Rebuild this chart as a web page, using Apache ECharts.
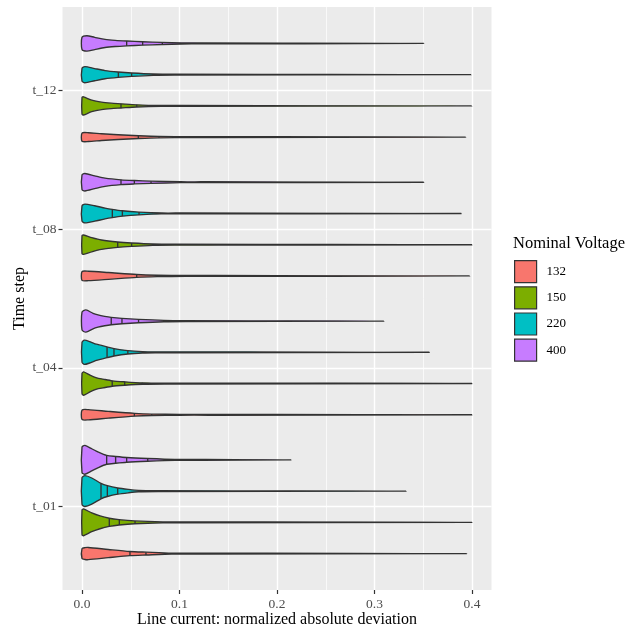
<!DOCTYPE html>
<html><head><meta charset="utf-8">
<script src="https://cdn.jsdelivr.net/npm/echarts@6/dist/echarts.min.js"></script>
<style>html,body{margin:0;padding:0;background:#fff}#c{width:640px;height:630px}</style>
</head><body><div id="c"></div>
<script>
// ---- data ----
const timeSteps = ['t_01', 't_04', 't_08', 't_12'];
const voltages = ['132', '150', '220', '400'];
const xTicks = [0, 0.1, 0.2, 0.3, 0.4];
const xMinorTicks = [0.05, 0.15, 0.25, 0.35];
const yTicks = [1, 2, 3, 4];

// maximum deviation per time step (t_01, t_04, t_08, t_12)
const max132 = [0.3945, 0.400, 0.3976, 0.3935];
const max150 = [0.400, 0.400, 0.400, 0.3997];
const max220 = [0.3324, 0.3563, 0.389, 0.399];
const max400 = [0.2144, 0.3096, 0.3505, 0.3505];

// quantile lines per time step
const quant132 = [[0.0492, 0.0656, 0.092], [0.0537, 0.0715, 0.0995], [0.0561, 0.0766, 0.1056], [0.0578, 0.079, 0.1108]];
const quant150 = [[0.028, 0.0383, 0.0544, 0.0834], [0.031, 0.0438, 0.0619], [0.0366, 0.0509, 0.0725], [0.04, 0.0561, 0.0807]];
const quant220 = [[0.0195, 0.026, 0.0366], [0.0257, 0.0328, 0.047], [0.0311, 0.0414, 0.0585], [0.0373, 0.0509, 0.0732]];
const quant400 = [[0.0253, 0.0345, 0.0458, 0.0674], [0.030, 0.041, 0.058, 0.084], [0.04, 0.0537, 0.0708, 0.1015], [0.0458, 0.0622, 0.0824]];

// density profiles [value, density] per time step (density 15.6 = full violin half-width)
const dens132 = [
  [[0, 5.5], [0.003, 6.5], [0.0065, 6.7], [0.027, 4.7], [0.049, 2.7], [0.066, 2], [0.092, 1], [0.123, 0.5]],
  [[0, 5.3], [0.0065, 5.7], [0.027, 4], [0.054, 2], [0.0715, 1.3], [0.1, 0.9], [0.13, 0.5]],
  [[0, 5], [0.0065, 5.3], [0.027, 4], [0.056, 2], [0.077, 1.3], [0.106, 0.7], [0.136, 0.4]],
  [[0, 4.7], [0.0065, 5], [0.02, 4], [0.037, 3], [0.058, 2], [0.079, 1.3], [0.111, 0.7], [0.136, 0.4]]
];
const dens150 = [
  [[0, 13], [0.0015, 14], [0.01, 10], [0.0185, 7], [0.028, 4.7], [0.038, 3.3], [0.054, 2], [0.083, 1], [0.102, 0.6]],
  [[0, 10.7], [0.0017, 12.3], [0.0082, 9], [0.015, 6.3], [0.0216, 5], [0.031, 3.3], [0.0438, 2.3], [0.062, 1.3], [0.085, 0.8]],
  [[0, 9.5], [0.0015, 10.3], [0.01, 7.7], [0.02, 5.3], [0.0366, 3.3], [0.051, 2.3], [0.0725, 1.3], [0.095, 0.7]],
  [[0, 9], [0.0015, 9.7], [0.01, 6.3], [0.02, 4.3], [0.03, 3.3], [0.04, 2.7], [0.056, 1.7], [0.081, 1], [0.102, 0.6]]
];
const dens220 = [
  [[0, 14], [0.003, 16], [0.01, 13.7], [0.0195, 8.3], [0.026, 6], [0.0366, 3.7], [0.0475, 2.3], [0.058, 1.3], [0.078, 0.7]],
  [[0, 10.5], [0.0024, 12.7], [0.0079, 11.3], [0.0147, 8.7], [0.0257, 6], [0.0328, 4.3], [0.047, 2.3], [0.062, 1.3], [0.075, 1], [0.095, 0.7]],
  [[0, 8.3], [0.003, 10], [0.013, 8.3], [0.0236, 6], [0.031, 4.7], [0.0414, 3.3], [0.0585, 2], [0.082, 1], [0.102, 0.5]],
  [[0, 7], [0.003, 8.7], [0.013, 6.7], [0.0236, 4.7], [0.037, 3.3], [0.051, 2.3], [0.073, 1.3], [0.095, 0.8]]
];
const dens400 = [
  [[0, 13.3], [0.003, 15], [0.01, 11.7], [0.0168, 8.3], [0.0253, 5], [0.0345, 4], [0.0458, 3], [0.067, 2], [0.095, 1], [0.123, 0.5]],
  [[0, 9.5], [0.004, 11.7], [0.0113, 8.3], [0.0164, 6.7], [0.0233, 5.3], [0.030, 4.3], [0.041, 3.3], [0.058, 2.3], [0.084, 1.3], [0.106, 0.7]],
  [[0, 8], [0.003, 9.3], [0.013, 7], [0.0236, 4.7], [0.04, 3], [0.054, 2.3], [0.071, 1.7], [0.1015, 1], [0.123, 0.5]],
  [[0, 6.7], [0.005, 8.3], [0.013, 6.7], [0.0236, 4.7], [0.034, 3.7], [0.046, 3], [0.062, 2.3], [0.082, 1.7], [0.102, 1.2], [0.123, 0.6]]
];

const colors = ['#F8766D', '#7CAE00', '#00BFC4', '#C77CFF'];
const maxes = [max132, max150, max220, max400];
const quants = [quant132, quant150, quant220, quant400];
const denses = [dens132, dens150, dens220, dens400];

// ---- rendering ----
const DODGE = 0.225, HALF = 0.1125, DFULL = 15.6, PAD = 0.6, MIND = 0.45;
const STROKE = '#333333', LW = 1.35;
const FONT = '"Liberation Serif", "Times New Roman", serif';

function densAt(prof, v) {
  for (let i = 0; i < prof.length - 1; i++) {
    const a = prof[i], b = prof[i + 1];
    if (v >= a[0] && v <= b[0]) return a[1] + (b[1] - a[1]) * (v - a[0]) / (b[0] - a[0]);
  }
  return prof[prof.length - 1][1];
}

function makeRender(j) {
  return function (params, api) {
    const t = Math.round(api.value(1)) - 1;
    const yc = t + 1 + (j - 1.5) * DODGE;
    const prof = denses[j][t];
    const k = HALF / DFULL;
    const top = [], bot = [];
    prof.forEach(function (p) {
      const w = Math.max(p[1] - PAD, MIND) * k;
      top.push(api.coord([p[0], yc + w]));
      bot.push(api.coord([p[0], yc - w]));
    });
    const end = api.coord([maxes[j][t], yc]);
    const pts = top.concat([end], bot.reverse());
    const children = [{
      type: 'polygon',
      shape: { points: pts, smooth: 0.25 },
      style: { fill: colors[j], stroke: STROKE, lineWidth: LW, lineJoin: 'round' }
    }];
    quants[j][t].forEach(function (q) {
      const w = Math.max(densAt(prof, q) - PAD, MIND) * k;
      const a = api.coord([q, yc + w]), b = api.coord([q, yc - w]);
      children.push({
        type: 'line',
        shape: { x1: a[0], y1: a[1], x2: b[0], y2: b[1] },
        style: { stroke: STROKE, lineWidth: LW }
      });
    });
    return { type: 'group', children: children };
  };
}

const series = voltages.map(function (v, j) {
  return {
    name: v,
    type: 'custom',
    xAxisIndex: 0,
    yAxisIndex: 0,
    itemStyle: { color: colors[j] },
    encode: { x: 0, y: 1 },
    data: timeSteps.map(function (ts, i) { return [maxes[j][i], i + 1]; }),
    renderItem: makeRender(j),
    clip: true,
    silent: true
  };
});

const chart = echarts.init(document.getElementById('c'), null, { renderer: 'canvas' });
chart.setOption({
  animation: false,
  backgroundColor: '#ffffff',
  textStyle: { fontFamily: FONT },
  title: {
    text: 'Nominal Voltage', left: 513, top: 235, padding: 0,
    textStyle: { fontFamily: FONT, fontSize: 16.5, fontWeight: 'normal', color: '#000' }
  },
  legend: {
    orient: 'vertical', left: 514, top: 260, padding: 0,
    itemWidth: 22, itemHeight: 22, itemGap: 3,
    icon: 'rect',
    textStyle: { fontFamily: FONT, fontSize: 13, color: '#000', padding: [0, 0, 0, 5] },
    itemStyle: { borderColor: STROKE, borderWidth: 1.2 },
    data: voltages.map(function (v, j) { return { name: v, itemStyle: { color: colors[j] } }; }),
    selectedMode: false
  },
  grid: { left: 62.5, right: 148.5, top: 7, bottom: 40, outerBoundsMode: 'none', containLabel: false,
    show: true, backgroundColor: '#EBEBEB', borderWidth: 0 },
  xAxis: [{
    type: 'value', min: -0.02, max: 0.42,
    name: 'Line current: normalized absolute deviation',
    nameLocation: 'middle', nameGap: 22, nameMoveOverlap: false,
    nameTextStyle: { fontFamily: FONT, fontSize: 16, color: '#000' },
    axisLine: { show: false, onZero: false },
    axisTick: { show: true, length: 4, customValues: xTicks, lineStyle: { color: STROKE, width: 1.2 } },
    axisLabel: { customValues: xTicks, margin: 7, fontFamily: FONT, fontSize: 13.5, color: '#4D4D4D',
      formatter: function (v) { return v.toFixed(1); } },
    splitLine: { show: true, lineStyle: { color: '#ffffff', width: 1.4 } }
  }, {
    type: 'value', min: -0.02, max: 0.42, position: 'bottom',
    axisLine: { show: false, onZero: false }, axisLabel: { show: false },
    axisTick: { show: false, customValues: xMinorTicks },
    splitLine: { show: true, lineStyle: { color: '#ffffff', width: 0.7 } }
  }],
  yAxis: {
    type: 'value', min: 0.4, max: 4.6,
    name: 'Time step', nameLocation: 'middle', nameGap: 35, nameRotate: 90, nameMoveOverlap: false,
    nameTextStyle: { fontFamily: FONT, fontSize: 16, color: '#000' },
    axisLine: { show: false, onZero: false },
    axisTick: { show: true, length: 4, customValues: yTicks, lineStyle: { color: STROKE, width: 1.2 } },
    axisLabel: { customValues: yTicks, margin: 6, fontFamily: FONT, fontSize: 13.5, color: '#4D4D4D',
      formatter: function (v) { return timeSteps[Math.round(v) - 1]; } },
    splitLine: { show: true, lineStyle: { color: '#ffffff', width: 1.4 } }
  },
  series: series
});
</script></body></html>
